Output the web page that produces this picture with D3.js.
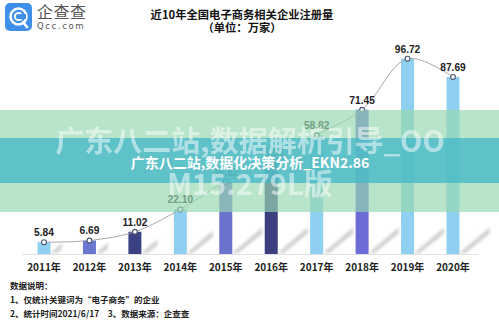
<!DOCTYPE html>
<html><head><meta charset="utf-8">
<script src="https://cdn.jsdelivr.net/npm/d3@7"></script>
<style>
html,body{margin:0;padding:0;background:#fff;}
svg{display:block;font-family:"Noto Sans CJK SC","Noto Sans",sans-serif;}
</style></head>
<body><svg id="c" width="499" height="323"></svg>
<script>
const years = ["2011年","2012年","2013年","2014年","2015年","2016年","2017年","2018年","2019年","2020年"];
const values = [5.84, 6.69, 11.02, 22.10, 35.82, 45.50, 58.82, 71.45, 96.72, 87.69];
const valueLabels = ["5.84","6.69","11.02","22.10","35.82","45.50","58.82","71.45","96.72","87.69"];
const barColors = ["#8fd0f0","#6b76d0","#3b4283","#8fd0f0","#6a72cc","#3b3f80","#8fd0f0","#6b6cd6","#8fd0f0","#8fd0f0"];
const title = "近10年全国电子商务相关企业注册量";
const subtitle = "（单位：万家）";
const notes = ["数据说明：","1、仅统计关键词为“电子商务”的企业","2、统计时间2021/6/17　3、数据来源：企查查"];
const wm1 = "广东八二站,数据解析引导_OO";
const wm2 = "M15.279L版";
const wmSmall = "广东八二站,数据化决策分析_EKN2.86";

const svg = d3.select("#c");
const x = d3.scalePoint().domain(years).range([44, 453]);
const y = d3.scaleLinear().domain([0, 96.72]).range([254, 58.7]);
const bw = 13;

const defs = svg.append("defs");
const f = defs.append("filter").attr("id","blur").attr("x","-50%").attr("y","-50%").attr("width","200%").attr("height","200%");
f.append("feGaussianBlur").attr("stdDeviation",1.6);

// logo
const logo = svg.append("g");
logo.append("rect").attr("x",5).attr("y",3).attr("width",27).attr("height",28).attr("rx",5).attr("fill","#3d8fe8");
logo.append("circle").attr("cx",18.5).attr("cy",16.5).attr("r",8).attr("fill","none").attr("stroke","#fff").attr("stroke-width",2.6);
logo.append("circle").attr("cx",18.5).attr("cy",16.5).attr("r",3.6).attr("fill","none").attr("stroke","#fff").attr("stroke-width",2);
logo.append("line").attr("x1",23).attr("y1",22).attr("x2",27).attr("y2",27).attr("stroke","#fff").attr("stroke-width",2.6).attr("stroke-linecap","round");
logo.append("rect").attr("x",20).attr("y",14).attr("width",6).attr("height",5).attr("fill","#3d8fe8");
logo.append("text").attr("x",37).attr("y",18).attr("font-size",16).attr("fill","#555").attr("letter-spacing",0.5).text("企查查");
logo.append("text").attr("x",37).attr("y",29).attr("font-size",8.5).attr("fill","#555").attr("letter-spacing",1.6).attr("font-family","DejaVu Sans, sans-serif").text("Qcc.com");

// title
svg.append("text").attr("x",242).attr("y",19).attr("text-anchor","middle").attr("font-size",11.3).attr("font-weight","bold").attr("fill","#111").text(title);
svg.append("text").attr("x",242).attr("y",32).attr("text-anchor","middle").attr("font-size",11.3).attr("font-weight","bold").attr("fill","#111").text(subtitle);

// baseline
svg.append("line").attr("x1",22).attr("x2",478).attr("y1",y(0)+0.5).attr("y2",y(0)+0.5).attr("stroke","#e2e2e2");

// shadows
svg.append("g").attr("filter","url(#blur)").selectAll("path").data(years).join("path")
  .attr("fill","#cfcfcf")
  .attr("d",(d,i)=>{
    const h = y(0)-y(values[i]);
    const dx = Math.min(h*0.45+6, 30);
    const dy = dx*0.85;
    const x0 = x(d)+bw/2, y0 = y(0)-1;
    return `M${x0},${y0} L${x0+dx},${y0-dy} L${x0+dx},${y0-dy+6} L${x0+6},${y0} Z`;
  });

// bars
svg.append("g").selectAll("rect").data(years).join("rect")
  .attr("x",d=>x(d)-bw/2).attr("width",bw)
  .attr("y",(d,i)=>y(values[i])).attr("height",(d,i)=>y(0)-y(values[i]))
  .attr("fill",(d,i)=>barColors[i]);

// line
const pts = years.map((d,i)=>[x(d), y(values[i])]);
svg.append("path").attr("d", d3.line().curve(d3.curveCatmullRom.alpha(0.5))(pts))
  .attr("fill","none").attr("stroke","#a8a8a8").attr("stroke-width",1);
svg.append("g").selectAll("circle").data(pts).join("circle")
  .attr("cx",d=>d[0]).attr("cy",d=>d[1]).attr("r",2.4)
  .attr("fill","#fff").attr("stroke","#4a5570").attr("stroke-width",1.1);

// value labels
svg.append("g").selectAll("text").data(years).join("text")
  .attr("x",d=>x(d)).attr("y",(d,i)=>y(values[i])-6)
  .attr("text-anchor","middle").attr("font-size",10.2).attr("font-weight","bold").attr("fill","#222")
  .attr("font-family","Liberation Sans, Arial, sans-serif")
  .text((d,i)=>valueLabels[i]);

// x axis labels
svg.append("g").selectAll("text").data(years).join("text")
  .attr("x",d=>x(d)).attr("y",271)
  .attr("text-anchor","middle").attr("font-size",10).attr("font-weight","bold").attr("fill","#222")
  .text(d=>d);

// notes
svg.append("g").selectAll("text").data(notes).join("text")
  .attr("x",10).attr("y",(d,i)=>289+i*14)
  .attr("font-size",8.5).attr("font-weight","bold").attr("fill","#222")
  .text(d=>d);

// watermark bands
svg.append("rect").attr("x",0).attr("y",110).attr("width",499).attr("height",102).attr("fill","rgb(150,215,175)").attr("opacity",0.68);
svg.append("rect").attr("x",0).attr("y",138).attr("width",499).attr("height",45).attr("fill","rgb(70,185,200)").attr("opacity",0.78);
svg.append("text").attr("x",250).attr("y",152).attr("text-anchor","middle").attr("font-size",29).attr("font-weight","bold").attr("fill","#fff").attr("opacity",0.5).text(wm1);
svg.append("text").attr("x",250).attr("y",195).attr("text-anchor","middle").attr("font-size",29).attr("font-weight","bold").attr("fill","#fff").attr("opacity",0.5).text(wm2);
svg.append("text").attr("x",250).attr("y",168).attr("text-anchor","middle").attr("font-size",14).attr("font-weight","bold").attr("fill","#fff").text(wmSmall);
</script></body></html>
